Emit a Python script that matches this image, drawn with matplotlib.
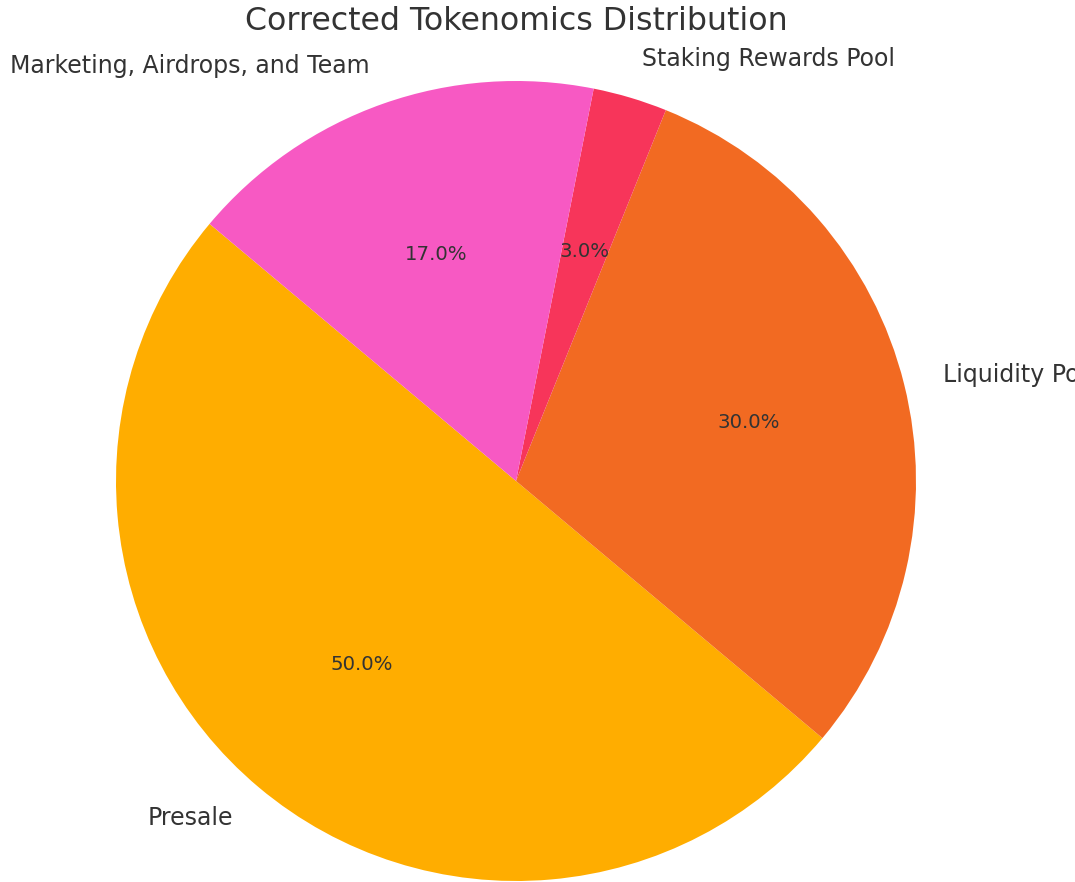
import matplotlib
matplotlib.use("Agg")
import matplotlib.pyplot as plt

labels = ["Presale", "Liquidity Pool", "Staking Rewards Pool", "Marketing, Airdrops, and Team"]
values = [50, 30, 3, 17]
colors = ["#FFAD00", "#F26A22", "#F7355A", "#F759C3"]

W, H = 1075, 882
fig = plt.figure(figsize=(W / 100, H / 100), dpi=100)
cx, cy, r = 516, 481, 400
ax = fig.add_axes([(cx - r) / W, (H - cy - r) / H, 2 * r / W, 2 * r / H])
wedges, texts, autotexts = ax.pie(
    values, labels=labels, colors=colors, startangle=140,
    autopct="%1.1f%%", textprops={"color": "#333333", "fontsize": 17},
    wedgeprops={"linewidth": 0},
)
for t in autotexts:
    t.set_fontsize(14.2)
ax.set_xlim(-1, 1)
ax.set_ylim(-1, 1)
ax.set_aspect("equal")
ax.axis("off")
fig.text(cx / W, 1 - 22 / H, "Corrected Tokenomics Distribution", ha="center", va="center",
         fontsize=22.8, color="#333333")
fig.savefig("out.png", dpi=100)
